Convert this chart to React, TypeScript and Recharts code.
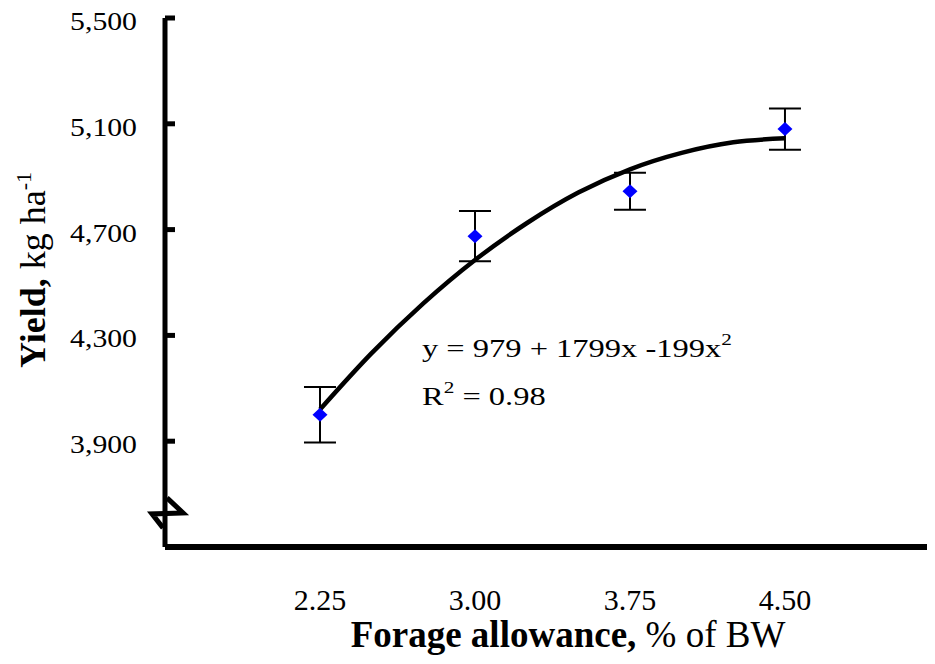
import React from "react";
import {
  ComposedChart,
  Line,
  Scatter,
  ErrorBar,
  XAxis,
  YAxis,
  ReferenceDot,
  Customized,
} from "recharts";

// fitted curve
const curveX = [2.25, 2.5, 2.75, 3.0, 3.25, 3.5, 3.75, 4.0, 4.25, 4.5];
const curveY = [4020, 4233, 4421, 4585, 4724, 4840, 4928, 4990, 5030, 5045];

// measured means with error bars
const pointX = [2.25, 3.0, 3.75, 4.5];
const pointY = [4000, 4675, 4845, 5080];
const pointErr = [105, 95, 70, 78];

const xTicks = [2.25, 3.0, 3.75, 4.5];
const yTicks = [3900, 4300, 4700, 5100, 5500];

const curveData = curveX.map((x, i) => ({ x, y: curveY[i] }));
const pointData = pointX.map((x, i) => ({ x, y: pointY[i], err: pointErr[i] }));

const FONT = "'Liberation Serif', 'Times New Roman', serif";

const YTick = (props: any) => {
  const { x, y, payload } = props;
  return (
    <g>
      <line x1={x} y1={y} x2={x + 10} y2={y} stroke="#000" strokeWidth={5} />
      <text
        transform={`translate(${x - 28},${y + 12}) scale(1.19,1)`}
        textAnchor="end"
        fontFamily={FONT}
        fontSize={25}
        fill="#000"
      >
        {payload.value.toLocaleString("en-US")}
      </text>
    </g>
  );
};

const XTick = (props: any) => {
  const { x, y, payload } = props;
  return (
    <text
      x={x}
      y={y + 63}
      textAnchor="middle"
      fontFamily={FONT}
      fontSize={30}
      fill="#000"
    >
      {payload.value.toFixed(2)}
    </text>
  );
};

const Diamond = (props: any) => {
  const { cx, cy } = props;
  return (
    <path
      d={`M${cx},${cy - 7} L${cx + 7.5},${cy} L${cx},${cy + 7} L${cx - 7.5},${cy} Z`}
      fill="#0000FF"
    />
  );
};

const AxisBreak = (props: any) => {
  const { cx, cy } = props;
  return (
    <path
      d={`M${cx + 2},${cy - 15} L${cx + 18},${cy} L${cx - 13},${cy + 1} L${cx - 2},${cy + 15}`}
      fill="none"
      stroke="#000"
      strokeWidth={5}
    />
  );
};

const Titles = () => (
  <g fontFamily={FONT} fill="#000">
    <text x={560} y={639} textAnchor="middle" fontSize={37}>
      <tspan fontWeight="bold">Forage allowance,</tspan>
      <tspan> % of BW</tspan>
    </text>
    <text
      transform="translate(37,262) rotate(-90)"
      textAnchor="middle"
      fontSize={36}
    >
      <tspan fontWeight="bold">Yield,</tspan>
      <tspan> kg ha</tspan>
      <tspan fontSize={22} dy={-14}>
        -1
      </tspan>
    </text>
    <text transform="translate(414,349) scale(1.25,1)" fontSize={26}>
      y = 979 + 1799x -199x
      <tspan fontSize={17} dy={-12}>
        2
      </tspan>
    </text>
    <text transform="translate(414,397) scale(1.25,1)" fontSize={26}>
      R
      <tspan fontSize={17} dy={-12}>
        2
      </tspan>
      <tspan dy={12}> = 0.98</tspan>
    </text>
  </g>
);

export default function App() {
  return (
    <ComposedChart
      width={927}
      height={656}
      margin={{ top: 10, right: 0, bottom: 0, left: 0 }}
    >
      <XAxis
        type="number"
        dataKey="x"
        domain={[1.5, 5.226]}
        ticks={xTicks}
        allowDataOverflow
        height={117}
        tickSize={0}
        tickMargin={0}
        tickLine={false}
        axisLine={{ stroke: "#000", strokeWidth: 6 }}
        tick={<XTick />}
      />
      <YAxis
        type="number"
        dataKey="y"
        domain={[3500, 5500]}
        ticks={yTicks}
        allowDataOverflow
        width={157}
        tickSize={0}
        tickMargin={0}
        tickLine={false}
        axisLine={{ stroke: "#000", strokeWidth: 5 }}
        tick={<YTick />}
      />
      <Line
        data={curveData}
        dataKey="y"
        type="monotone"
        stroke="#000"
        strokeWidth={4.5}
        dot={false}
        isAnimationActive={false}
      />
      <Scatter
        data={pointData}
        dataKey="y"
        shape={<Diamond />}
        isAnimationActive={false}
      >
        <ErrorBar
          dataKey="err"
          direction="y"
          width={16}
          stroke="#000"
          strokeWidth={2}
          isAnimationActive={false}
        />
      </Scatter>
      <ReferenceDot x={1.5} y={3629} r={1} shape={<AxisBreak />} ifOverflow="visible" />
      <Customized component={<Titles />} />
    </ComposedChart>
  );
}
